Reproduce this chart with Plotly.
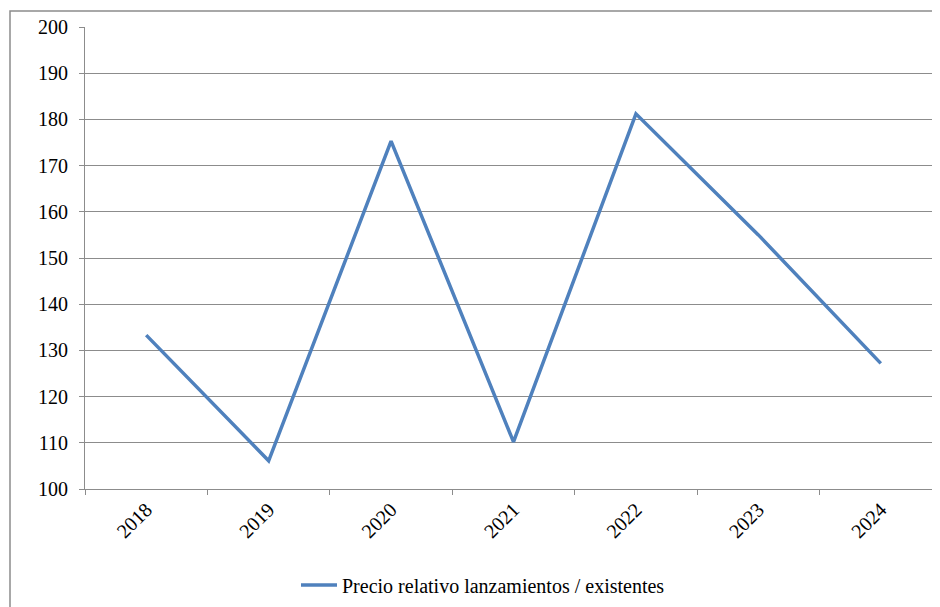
import plotly.graph_objects as go

# ─── Données ────────────────────────────────────────────────────────────────
annees = ["2018", "2019", "2020", "2021", "2022", "2023", "2024"]
precio_relativo = [133.3, 106.1, 175.3, 110.2, 181.2, 155.0, 127.2]
nom_serie = "Precio relativo lanzamientos / existentes"

# ─── Style ──────────────────────────────────────────────────────────────────
C_LIGNE = "#4F81BD"
C_GRILLE = "#8C8C8C"
_SERIF = "Times New Roman"
_FONT = dict(family=_SERIF, color="#000000", size=20)

# la page décale la figure de ~8 px (marge du body)
W, H = 934, 600
M_L, M_R, M_T, M_B = 77, 0, 19, 119

fig = go.Figure()

fig.add_trace(go.Scatter(
    x=annees, y=precio_relativo,
    name=nom_serie,
    mode="lines",
    line=dict(color=C_LIGNE, width=3.5),
))

fig.update_xaxes(
    type="category",
    range=[-0.5, len(annees) - 0.5],
    tickson="boundaries",
    ticks="outside", ticklen=5, tickcolor=C_GRILLE,
    tickangle=-45,
    showgrid=False,
    showline=True, linecolor=C_GRILLE, linewidth=1,
    tickfont=_FONT,
)
fig.update_yaxes(
    range=[100, 200], dtick=10,
    ticks="outside", ticklen=5, tickcolor=C_GRILLE,
    showgrid=True, gridcolor=C_GRILLE, gridwidth=1,
    showline=True, linecolor=C_GRILLE, linewidth=1,
    zeroline=False,
    ticklabelstandoff=7,
    tickfont=_FONT,
)

# cadre du graphique (coupé à droite et en bas)
pw, ph = W - M_L - M_R, H - M_T - M_B
fig.add_shape(
    type="rect", xref="paper", yref="paper",
    x0=(2 - M_L) / pw, x1=(W + 20 - M_L) / pw,
    y0=(H - M_B - (H + 20)) / ph, y1=(H - M_B - 3) / ph,
    line=dict(color=C_GRILLE, width=1.5), layer="below",
)

fig.update_layout(
    width=W, height=H,
    font=_FONT,
    plot_bgcolor="white", paper_bgcolor="white",
    margin=dict(l=M_L, r=M_R, t=M_T, b=M_B),
    showlegend=True,
    legend=dict(
        orientation="h", xanchor="center", x=(475 - M_L) / pw,
        yanchor="middle", y=-(577 - (H - M_B)) / ph,
        font=_FONT, itemwidth=36,
    ),
)

fig.write_html("out.html")
